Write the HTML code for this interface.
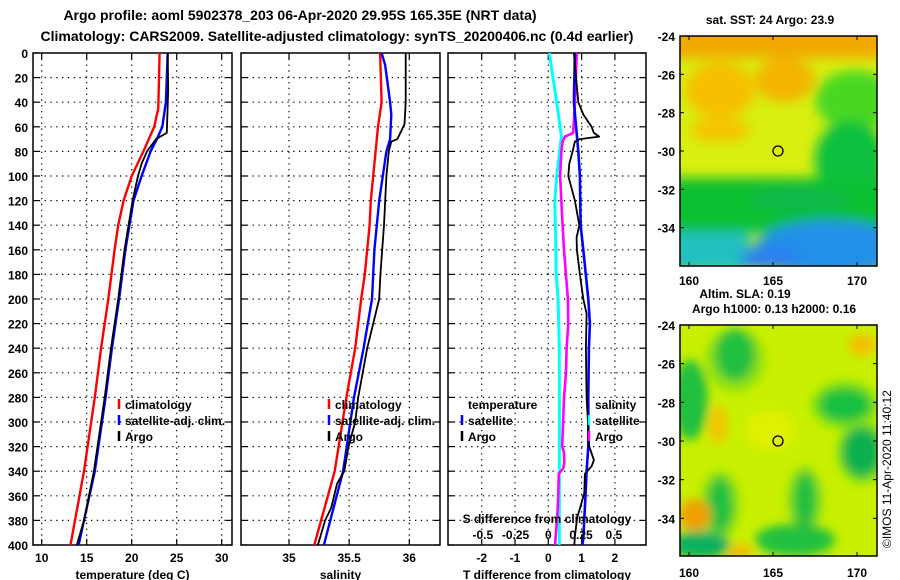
<!DOCTYPE html>
<html><head><meta charset="utf-8"><style>
html,body{margin:0;padding:0;background:#fff;}
svg{display:block;font-family:"Liberation Sans",Arial,sans-serif;font-weight:bold;}
</style></head><body>
<svg id="c" width="900" height="580" viewBox="0 0 900 580">
<defs>
<filter id="bl" x="-50%" y="-50%" width="200%" height="200%"><feGaussianBlur stdDeviation="6"/></filter>
<filter id="bl2" x="-50%" y="-50%" width="200%" height="200%"><feGaussianBlur stdDeviation="5"/></filter>
<clipPath id="m1c"><rect x="680" y="36" width="197" height="230"/></clipPath>
<clipPath id="m2c"><rect x="680" y="325" width="197" height="231"/></clipPath>
</defs>
<text x="300" y="20" font-size="14" text-anchor="middle">Argo profile: aoml 5902378_203 06-Apr-2020 29.95S 165.35E (NRT data)</text>
<text x="337" y="41" font-size="14" text-anchor="middle">Climatology: CARS2009. Satellite-adjusted climatology: synTS_20200406.nc (0.4d earlier)</text>

<g clip-path="url(#m1c)">
<rect x="680" y="36" width="197" height="230" fill="#d8ef10"/>
<g filter="url(#bl)">
<rect x="670" y="20" width="220" height="38" fill="#f2a800"/>
<ellipse cx="720" cy="90" rx="35" ry="28" fill="#f6c000"/>
<ellipse cx="785" cy="80" rx="30" ry="22" fill="#f4b400"/>
<ellipse cx="720" cy="130" rx="30" ry="12" fill="#f5c400"/>
<ellipse cx="855" cy="100" rx="40" ry="30" fill="#48d820"/>
<ellipse cx="850" cy="160" rx="35" ry="40" fill="#10c040"/>
<rect x="670" y="178" width="220" height="55" fill="#10c030"/>
<ellipse cx="800" cy="200" rx="50" ry="12" fill="#08b848"/>
<rect x="670" y="232" width="80" height="40" fill="#20c0c0"/>
<ellipse cx="830" cy="248" rx="75" ry="28" fill="#2090e8"/>
<ellipse cx="770" cy="258" rx="30" ry="12" fill="#2a80f0"/>
</g>
<circle cx="778" cy="151" r="5" fill="none" stroke="#000" stroke-width="1.3"/>
</g>
<rect x="680" y="36" width="197" height="230" fill="none" stroke="#000" stroke-width="1.5"/>
<text x="770" y="24" font-size="12" text-anchor="middle">sat. SST: 24 Argo: 23.9</text>

<g clip-path="url(#m2c)">
<rect x="680" y="325" width="197" height="231" fill="#c8f000"/>
<g filter="url(#bl2)">
<ellipse cx="735" cy="360" rx="30" ry="32" fill="#90e010"/>
<ellipse cx="735" cy="355" rx="20" ry="26" fill="#20c040"/>
<ellipse cx="690" cy="400" rx="18" ry="40" fill="#20c040"/>
<ellipse cx="845" cy="405" rx="34" ry="24" fill="#80e010"/>
<ellipse cx="845" cy="405" rx="26" ry="17" fill="#18c040"/>
<ellipse cx="862" cy="452" rx="25" ry="32" fill="#80e010"/>
<ellipse cx="862" cy="452" rx="20" ry="25" fill="#10b050"/>
<ellipse cx="720" cy="505" rx="20" ry="34" fill="#90e010"/>
<ellipse cx="720" cy="505" rx="13" ry="28" fill="#20c040"/>
<ellipse cx="805" cy="500" rx="18" ry="34" fill="#90e010"/>
<ellipse cx="805" cy="500" rx="12" ry="28" fill="#20c040"/>
<ellipse cx="795" cy="540" rx="40" ry="16" fill="#20c040"/>
<ellipse cx="700" cy="545" rx="30" ry="14" fill="#10b060"/>
<ellipse cx="695" cy="515" rx="16" ry="16" fill="#f0a000"/>
<ellipse cx="718" cy="425" rx="9" ry="20" fill="#f4c400"/>
<ellipse cx="862" cy="345" rx="14" ry="11" fill="#f4c000"/>
<ellipse cx="740" cy="552" rx="12" ry="7" fill="#f4b400"/>
<ellipse cx="770" cy="430" rx="25" ry="20" fill="#e0f000"/>
</g>
<circle cx="778" cy="441" r="5" fill="none" stroke="#000" stroke-width="1.3"/>
</g>
<rect x="680" y="325" width="197" height="231" fill="none" stroke="#000" stroke-width="1.5"/>
<text x="745" y="298" font-size="12" text-anchor="middle">Altim. SLA: 0.19</text>
<text x="774" y="313" font-size="12" text-anchor="middle">Argo h1000: 0.13 h2000: 0.16</text>
<text transform="translate(891,548) rotate(-90)" font-size="12" font-weight="normal">©IMOS 11-Apr-2020 11:40:12</text>
<g id="maxes"></g>
<g id="plots"></g>
</svg>
<script>
// ---- data ----
var depthTicks=[0,20,40,60,80,100,120,140,160,180,200,220,240,260,280,300,320,340,360,380,400];
var tClimD=[0,45,60,80,100,120,140,160,200,240,280,340,400];
var tClimV=[23.1,22.96,22.5,21.3,20.0,19.1,18.5,18.1,17.4,16.6,15.9,14.7,13.2];
var tSatD=[0,40,60,70,80,100,120,160,200,240,280,340,400];
var tSatV=[24.0,23.8,23.4,22.8,22.1,21.1,20.2,19.3,18.6,17.8,17.1,15.9,14.1];
var tArgoD=[0,30,65,70,80,90,100,120,160,200,240,280,340,380,400];
var tArgoV=[24.0,24.05,23.9,22.7,21.7,21.1,20.7,20.1,19.2,18.5,17.7,17.0,15.8,14.7,13.9];
var sClimD=[0,40,60,80,100,120,140,160,180,200,240,280,340,400];
var sClimV=[35.757,35.77,35.74,35.72,35.70,35.68,35.67,35.65,35.63,35.60,35.55,35.477,35.38,35.21];
var sSatD=[0,10,40,50,70,80,100,120,140,160,180,200,240,280,340,400];
var sSatV=[35.77,35.80,35.84,35.85,35.84,35.81,35.78,35.75,35.73,35.71,35.70,35.69,35.62,35.54,35.45,35.29];
var sArgoD=[0,40,58,62,70,72,80,100,140,180,200,240,280,300,320,340,350,370,380,390,400];
var sArgoV=[35.97,35.97,35.96,35.94,35.90,35.85,35.83,35.81,35.79,35.76,35.75,35.65,35.575,35.55,35.495,35.46,35.40,35.35,35.30,35.27,35.24];
var dsSatD=[0,40,68,80,100,120,160,180,200,240,300,400];
var dsSatV=[0.008,0.064,0.10,0.087,0.064,0.05,0.057,0.06,0.075,0.084,0.085,0.084];
var dsArgoD=[0,40,65,68,72,80,100,140,160,200,220,240,260,280,300,320,325,333,338,342,358,372,382,395,400];
var dsArgoV=[0.217,0.204,0.19,0.127,0.109,0.10,0.09,0.109,0.12,0.15,0.153,0.14,0.135,0.12,0.113,0.106,0.12,0.122,0.113,0.08,0.076,0.071,0.064,0.055,0.052];
var dtSatD=[0,40,80,100,140,160,200,220,240,280,320,340,358,395,400];
var dtSatV=[0.80,0.77,0.90,0.95,0.97,1.05,1.2,1.25,1.22,1.2,1.2,1.15,1.12,1.05,1.02];
var dtArgoD=[0,40,50,60,65,68,70,72,80,90,100,110,120,140,150,160,180,200,212,240,280,320,331,336,342,358,372,377,393,400];
var dtArgoV=[0.77,0.9,1.05,1.30,1.37,1.53,0.95,0.8,0.73,0.63,0.6,0.7,0.8,0.93,0.85,0.86,0.95,1.05,1.15,1.13,1.15,1.23,1.37,1.3,1.1,1.08,0.93,0.87,0.8,0.78];
var tTicks=[10,15,20,25,30];
var sTicks=[35,35.5,36];
var dtTicks=[-2,-1,0,1,2];
var dsTicks=[-0.5,-0.25,0,0.25,0.5];
var dsTickLabels=["-0.5","-0.25","0","0.25","0.5"];
var latTicks=[-24,-26,-28,-30,-32,-34];
var lonTicks=[160,165,170];

var NS="http://www.w3.org/2000/svg";
var P=document.getElementById('plots');
function mk(tag,a,parent){var e=document.createElementNS(NS,tag);for(var k in a)e.setAttribute(k,a[k]);(parent||P).appendChild(e);return e;}
var Y0=53,Y1=545;
function yD(d){return Y0+(Y1-Y0)*d/400;}
function lin(d0,d1,r0,r1){return function(v){return r0+(v-d0)*(r1-r0)/(d1-d0);};}
var panels=[
 {x0:33,x1:232,sx:lin(10,30,41.7,221.7),ticks:tTicks,labels:tTicks.map(String),title:"temperature (deg C)",name:"temperature-panel"},
 {x0:241,x1:440,sx:lin(35,36,289,409.3),ticks:sTicks,labels:["35","35.5","36"],title:"salinity",name:"salinity-panel"},
 {x0:448,x1:646,sx:lin(0,1,548.3,581.6),ticks:dtTicks,labels:dtTicks.map(String),title:"T difference from climatology",name:"difference-panel"}
];
panels.forEach(function(p,i){
 var g=mk('g',{});
 
 
 depthTicks.forEach(function(d){
  var y=yD(d);
  if(d>0&&d<400){mk('line',{x1:p.x0,x2:p.x1,y1:y,y2:y,stroke:'#000','stroke-width':1.2,'stroke-dasharray':'1.3 4.5'},g);}
  mk('line',{x1:p.x0,x2:p.x0+6,y1:y,y2:y,stroke:'#000','stroke-width':1.2},g);
  mk('line',{x1:p.x1-6,x2:p.x1,y1:y,y2:y,stroke:'#000','stroke-width':1.2},g);
  if(i==0){var t=mk('text',{x:28,y:y+5,'font-size':12,'text-anchor':'end'},g);t.textContent=d;
   
   }
 });
 p.ticks.forEach(function(v,j){
  var x=p.sx(v);
  mk('line',{x1:x,x2:x,y1:Y0,y2:Y1,stroke:'#000','stroke-width':1.2,'stroke-dasharray':'1.3 4.5'},g);
  mk('line',{x1:x,x2:x,y1:Y1-6,y2:Y1,stroke:'#000','stroke-width':1.2},g);
  mk('line',{x1:x,x2:x,y1:Y0,y2:Y0+6,stroke:'#000','stroke-width':1.2},g);
  var t=mk('text',{x:x,y:562,'font-size':12,'text-anchor':'middle'},g);t.textContent=p.labels[j];
  
  
 });
 mk('rect',{x:p.x0,y:Y0,width:p.x1-p.x0,height:Y1-Y0,fill:'none',stroke:'#000','stroke-width':1.5},g);
 var tt=mk('text',{x:(p.x0+p.x1)/2,y:579,'font-size':12,'text-anchor':'middle'},g);tt.textContent=p.title;
 
 
});
function line(D,V,sx,col,name,w){
 var pts=D.map(function(d,k){return sx(V[k]).toFixed(1)+','+yD(d).toFixed(1);}).join(' ');
 var e=mk('polyline',{points:pts,fill:'none',stroke:col,'stroke-width':w||2.4,'stroke-linejoin':'round'});
 
 
}
var s1=panels[0].sx,s2=panels[1].sx,s3=panels[2].sx,s3s=lin(0,0.5,548.3,613.8);
line(tClimD,tClimV,s1,'#f00','temp-climatology-line');
line(tSatD,tSatV,s1,'#00f','temp-satellite-line');
line(tArgoD,tArgoV,s1,'#000','temp-argo-line',1.8);
line(sClimD,sClimV,s2,'#f00','sal-climatology-line');
line(sSatD,sSatV,s2,'#00f','sal-satellite-line');
line(sArgoD,sArgoV,s2,'#000','sal-argo-line',1.8);
line(dsSatD,dsSatV,s3s,'#0ff','sdiff-satellite-line',3);
line(dsArgoD,dsArgoV,s3s,'#f0f','sdiff-argo-line',2.6);
line(dtSatD,dtSatV,s3,'#00f','tdiff-satellite-line',2.6);
line(dtArgoD,dtArgoV,s3,'#000','tdiff-argo-line',1.8);
var sdt=mk('text',{x:547,y:523,'font-size':12,'text-anchor':'middle'});sdt.textContent='S difference from climatology';


dsTicks.forEach(function(v,j){var t=mk('text',{x:s3s(v),y:539,'font-size':12,'text-anchor':'middle'});t.textContent=dsTickLabels[j];
 
 });
function leg(x,y,col,txt,bar){
 var g=mk('g',{});
 
 
 if(bar)mk('line',{x1:x,x2:x,y1:y-10,y2:y,stroke:col,'stroke-width':2.5},g);
 var t=mk('text',{x:x+6,y:y,'font-size':12},g);t.textContent=txt;
}
leg(119,409,'#f00','climatology',1);leg(119,425,'#00f','satellite-adj. clim.',1);leg(119,441,'#000','Argo',1);
leg(329,409,'#f00','climatology',1);leg(329,425,'#00f','satellite-adj. clim.',1);leg(329,441,'#000','Argo',1);
leg(462,409,'#000','temperature',0);leg(462,425,'#00f','satellite',1);leg(462,441,'#000','Argo',1);
leg(589,409,'#000','salinity',0);leg(589,425,'#0ff','satellite',1);leg(589,441,'#f0f','Argo',1);
var MA=document.getElementById('maxes');
[[36,266,lin(-24,-30,36,151),285],[325,556,lin(-24,-30,325,441),577]].forEach(function(m){
 latTicks.forEach(function(v){var y=m[2](v);
  mk('line',{x1:680,x2:684,y1:y,y2:y,stroke:'#000'},MA);mk('line',{x1:873,x2:877,y1:y,y2:y,stroke:'#000'},MA);
  var t=mk('text',{x:675,y:y+5,'font-size':12,'text-anchor':'end'},MA);t.textContent=v;
  
  });
 var lx=lin(160,170,689,857);
 lonTicks.forEach(function(v){var x=lx(v);
  mk('line',{x1:x,x2:x,y1:m[0],y2:m[0]+4,stroke:'#000'},MA);mk('line',{x1:x,x2:x,y1:m[1]-4,y2:m[1],stroke:'#000'},MA);
  var t=mk('text',{x:x,y:m[3],'font-size':12,'text-anchor':'middle'},MA);t.textContent=v;
  
  });
});
</script>
</body></html>
